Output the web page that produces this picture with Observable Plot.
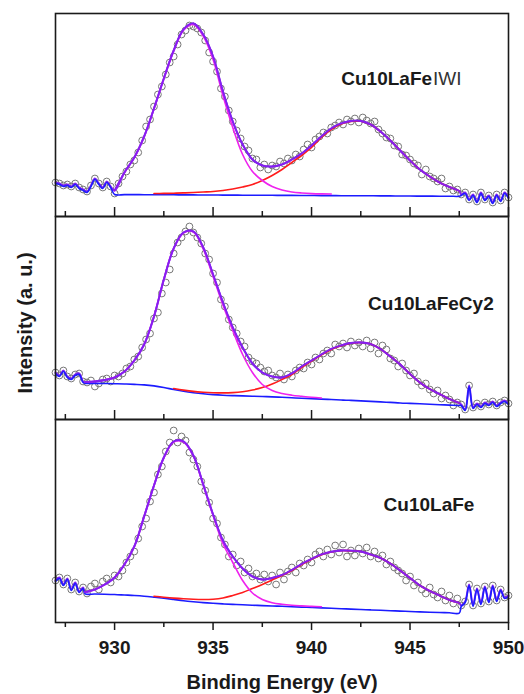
<!DOCTYPE html>
<html><head><meta charset="utf-8">
<script src="https://cdn.jsdelivr.net/npm/d3@7"></script>
<script src="https://cdn.jsdelivr.net/npm/@observablehq/plot@0.6"></script>
<style>
html,body{margin:0;padding:0;background:#fff;overflow:hidden;}
#chart{width:524px;height:694px;position:relative;}
#chart svg{display:block;}
</style></head><body><div id="chart"></div>
<script>
// ---- data ----
const sampleBold = ["Cu10LaFe", "Cu10LaFeCy2", "Cu10LaFe"];
const sampleThin = ["IWI", "", ""];
const labelEnd = [946.12, 949.25, 948.27];   // right end of the sample label (eV)
const labelLevel = [137.7, 115.3, 118];       // label height (a.u.)
const yLabel = "Intensity (a. u.)";
const xLabel = "Binding Energy (eV)";
const majorTicks = [930, 935, 940, 945, 950];
const minorTicks = [927.5, 932.5, 937.5, 942.5, 947.5];

// measured points: 927.0 .. 950.0 eV, every 0.2 eV
const dataStart = 927.0, dataStep = 0.2;
const data1 = [34,33,31,32,30,33,29,27,25,31,38,33,29,35,30,
  23,33,40,45,52,56,64,76,90,97,
  110,122,130,142,154,160,172,182,186,191,
  190,188,184,176,164,155,145,128,120,106,
  95,86,78,70,66,58,57,49,52,47,
  51,50,55,53,58,56,62,60,67,72,
  69,77,80,84,83,89,91,94,92,97,
  95,98,94,99,96,93,95,87,83,79,
  78,71,70,62,61,57,53,51,42,47,
  40,38,35,38,28,30,26,27,22,24,
  17,22,15,24,17,21,14,22,16,24,19];
const data2 = [47,44,49,43,41,45,46,38,37,39,33,36,40,41,38,
  44,43,46,51,53,60,63,72,80,86,
  101,107,126,137,150,166,177,182,188,193,
  187,182,176,166,160,146,137,120,113,100,
  92,86,78,73,62,58,56,52,48,49,
  44,42,46,40,45,43,49,52,51,57,
  55,62,60,66,69,66,75,73,76,72,
  78,74,77,73,79,71,77,66,74,70,
  61,59,53,56,49,44,46,38,34,36,
  30,26,29,21,24,20,14,17,15,10,
  34,12,16,13,17,15,18,14,17,19,16];
const data3 = [42,45,38,44,33,40,31,35,29,36,39,33,41,44,40,
  47,46,52,60,66,71,84,96,104,121,
  130,148,156,171,180,192,180,186,182,170,
  163,156,141,132,120,104,99,85,78,66,
  68,57,61,50,54,46,49,43,48,41,
  47,38,50,43,51,55,50,59,57,63,
  60,68,71,66,73,68,77,70,78,66,
  72,67,74,69,75,66,71,64,67,58,
  61,55,52,49,42,46,37,40,33,29,
  35,28,25,31,22,27,19,24,17,21,
  38,17,34,19,36,21,37,22,33,25,27];

// fitted curves, every 0.5 eV from their start energy
const fitStep = 0.5;
const fitStart = [930.0, 928.5, 928.5];
const magStart = [930.0, 928.5, 928.5];
const redStart = [932.0, 933.0, 932.0];

const env1 = [26,44,59,80,108,138,166,187,193,182,160,125,95,72,57,51,50,52,57,63,71,80,88,93,95.5,95.5,92,85,76,66,56,47,40,34,29.5,25.5];
const base1 = [23.0,22.9,22.9,22.8,22.8,22.7,22.7,22.6,22.6,22.5,22.5,22.4,22.4,22.3,22.3,22.2,22.2,22.1,22.1,22.0,22.0,21.9,21.9,21.8,21.8,21.7,21.7,21.6,21.6,21.5,21.5,21.4,21.4,21.3,21.3,21.2];
const mag1 = [25.8,43.8,58.8,79.8,107.8,137.8,165.6,186.3,192,180.5,157,121,89,62,45,36,30,26.5,24.5,23.5,22.9,22.6,22.5];
const red1 = [23,23.1,23.3,23.6,24,24.5,25,26,27.5,29.5,32,36,41,47,54,61,69,79,87,92.5,95,95.3,92,85,76,66,56,47,40,34,29.5,25.5];

const env2 = [37.5,38,39.5,42,48,59,75,103,140,171,187,188,172,145,117,92,72,56,47,43,42,46,53,59,65,70.5,74,76.5,77,75.5,70.5,63,55,45.5,37,30.5,25.5,20.5,16.5];
const base2 = [37.2,37.1,37.0,36.8,36.5,36.1,35.6,34.6,33.0,31.0,29.2,27.8,26.7,25.9,25.3,24.9,24.6,24.3,24.0,23.6,23.2,22.7,22.3,21.9,21.4,21.0,20.5,20.1,19.6,19.1,18.6,18.1,17.5,17.1,16.7,16.2,15.8,15.4,15.0];
const mag2 = [37.5,38,39.5,42,48,59,75,103,140,171,186.5,187.5,170.5,143,114.5,89,65,47,35,29,26,24.3,23.2,22.2,21.5];
const red2 = [31,29.4,28.1,27.3,26.8,26.6,26.9,27.8,29.5,32,35.5,40,45,52,58.5,64.5,70,73.8,76.4,77,75.5,70.5,63,55,45.5,37,30.5,25.5,20.5,16.5];

const env3 = [30.5,33,38,45,58,76,106,137,165,181,181,167,138,108,82,66,54,46,43,44.5,47.5,52.5,58.5,63.5,68,70.7,72,71.8,71,68,64.5,59,52,44.5,37,31.5,27,22.5,19.5];
const base3 = [29.7,29.5,29.3,29.0,28.5,28.0,27.3,26.3,25.2,24.0,22.8,21.8,20.9,20.2,19.6,19.1,18.7,18.3,17.9,17.5,17.2,16.8,16.4,16.0,15.6,15.2,14.8,14.4,14.0,13.6,13.2,12.8,12.4,12.0,11.6,11.3,11.0,10.7,10.4];
const mag3 = [30.5,33,38,45,58,76,106,137,164.5,180.5,180.5,166.5,137.5,107,79,60,42,29.5,23,19.8,18.2,17.2,16.6,16.1,15.7];
const red3 = [26.3,25.3,24.4,23.7,23.2,23,23.3,24.5,27,30,34,38,42.5,47,52,58,63.3,67.8,70.5,72,71.8,71,68,64.5,59,52,44.5,37,31.5,27,22.5,19.5];

// ---- build ----
const colors = {dot: "#777777", env: "#8420f0", mag: "#ee22ee", red: "#ff1c1c", base: "#1c1cff", ink: "#1a1a1a"};
const font = "'Liberation Sans', Arial, sans-serif";

function points(values) { return values.map((v, i) => ({e: Math.round((dataStart + i * dataStep) * 10) / 10, v})); }
function series(start, values) { return values.map((v, i) => ({e: start + i * fitStep, v})); }
function withNoise(pts, start, values) {
  const fit = series(start, values);
  const a = fit[0].e, b = fit[fit.length - 1].e;
  return [...pts.filter(d => d.e < a - 1e-6), ...fit, ...pts.filter(d => d.e > b + 1e-6)];
}

const panelData = [
  {data: data1, env: env1, base: base1, mag: mag1, red: red1},
  {data: data2, env: env2, base: base2, mag: mag2, red: red2},
  {data: data3, env: env3, base: base3, mag: mag3, red: red3}
];

const chart = document.getElementById("chart");
const frameH = 203;
const layout = [
  {height: 216, marginTop: 13, marginBottom: 0},
  {height: 203, marginTop: 0, marginBottom: 0},
  {height: 275, marginTop: 0, marginBottom: 72}
];

panelData.forEach((p, k) => {
  const pts = points(p.data);
  const envLine = withNoise(pts, fitStart[k], p.env);
  const baseLine = withNoise(pts, fitStart[k], p.base);
  const magLine = series(magStart[k], p.mag);
  const redLine = series(redStart[k], p.red);
  const last = k === 2;
  const marks = [
    Plot.dot(pts, {x: "e", y: "v", r: 3.4, stroke: colors.dot, strokeWidth: 1, fill: "none"}),
    Plot.line(envLine, {x: "e", y: "v", stroke: colors.env, strokeWidth: 2, curve: "catmull-rom"}),
    Plot.line(baseLine, {x: "e", y: "v", stroke: colors.base, strokeWidth: 1.6, curve: "catmull-rom", dy: 1}),
    Plot.line(redLine, {x: "e", y: "v", stroke: colors.red, strokeWidth: 1.6, curve: "catmull-rom"}),
    Plot.line(magLine, {x: "e", y: "v", stroke: colors.mag, strokeWidth: 1.6, curve: "catmull-rom"}),
    Plot.line(series(fitStart[k], p.env), {x: "e", y: "v", stroke: colors.env, strokeWidth: 1.8, curve: "catmull-rom"}),
    Plot.frame({stroke: colors.ink, strokeWidth: 1.6}),
    Plot.text([sampleBold[k]], {x: labelEnd[k], y: labelLevel[k], text: d => d, textAnchor: "end", fontSize: 19, fontWeight: "bold", fill: colors.ink}),
  ];
  if (sampleThin[k]) {
    marks.push(Plot.text([sampleThin[k]], {x: labelEnd[k], y: labelLevel[k], text: d => d, textAnchor: "start", dx: 1, fontSize: 19, fontWeight: "normal", fill: "#333"}));
  }
  if (last) {
    marks.push(
      Plot.axisX(majorTicks, {tickSize: 8, tickPadding: 10, fontSize: 19, fontWeight: "bold", color: colors.ink, strokeWidth: 1.5, label: null, tickFormat: d => String(d)}),
      Plot.axisX(minorTicks, {tickSize: 5, color: colors.ink, strokeWidth: 1.5, label: null, tickFormat: () => ""}),
      Plot.text([xLabel], {frameAnchor: "bottom", dy: 60, textAnchor: "middle", lineAnchor: "middle", text: d => d, fontSize: 20, fontWeight: "bold", fill: colors.ink})
    );
  } else {
    marks.push(
      Plot.axisX(majorTicks, {tickSize: 9, dy: -9, color: colors.ink, strokeWidth: 1.5, label: null, tickFormat: () => ""}),
      Plot.axisX(minorTicks, {tickSize: 5, dy: -5, color: colors.ink, strokeWidth: 1.5, label: null, tickFormat: () => ""})
    );
  }
  if (k === 1) {
    marks.push(Plot.text([yLabel], {frameAnchor: "left", dx: -30, dy: 5, rotate: -90, textAnchor: "middle", lineAnchor: "middle", text: d => d, fontSize: 20, fontWeight: "bold", fill: colors.ink}));
  }
  const svg = Plot.plot({
    width: 524,
    height: layout[k].height,
    marginLeft: 55,
    marginRight: 16,
    marginTop: layout[k].marginTop,
    marginBottom: layout[k].marginBottom,
    x: {domain: [927, 950]},
    y: {domain: [0, frameH], axis: null},
    style: {background: "transparent", overflow: "visible", fontFamily: font},
    marks
  });
  chart.appendChild(svg);
});
</script>
</body></html>
